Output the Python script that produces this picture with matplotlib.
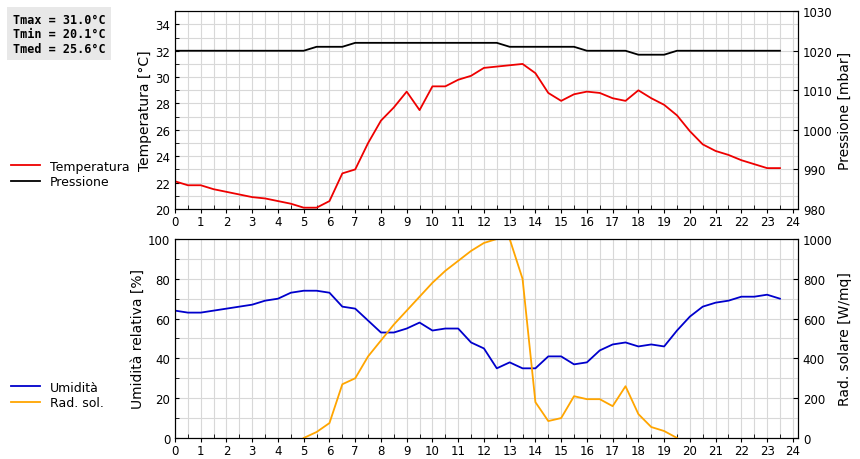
import numpy as np
import matplotlib
matplotlib.use("Agg")
import matplotlib.pyplot as plt
from matplotlib.ticker import MultipleLocator

# Half-hour readings, 0:00 .. 23:30
hours = np.arange(48) * 0.5
temperatura = [22.1, 21.8, 21.8, 21.5, 21.3, 21.1, 20.9, 20.8, 20.6, 20.4,
               20.1, 20.1, 20.6, 22.7, 23.0, 25.0, 26.7, 27.7, 28.9, 27.5,
               29.3, 29.3, 29.8, 30.1, 30.7, 30.8, 30.9, 31.0, 30.3, 28.8,
               28.2, 28.7, 28.9, 28.8, 28.4, 28.2, 29.0, 28.4, 27.9, 27.1,
               25.9, 24.9, 24.4, 24.1, 23.7, 23.4, 23.1, 23.1]
pressione = [1020] * 11 + [1021] * 3 + [1022] * 12 + [1021] * 6 + [1020] * 4 \
    + [1019] * 3 + [1020] * 9
umidita = [64, 63, 63, 64, 65, 66, 67, 69, 70, 73, 74, 74, 73, 66, 65, 59,
           53, 53, 55, 58, 54, 55, 55, 48, 45, 35, 38, 35, 35, 41, 41, 37,
           38, 44, 47, 48, 46, 47, 46, 54, 61, 66, 68, 69, 71, 71, 72, 70]
nan = np.nan
rad_sol = [nan] * 10 + [0, 30, 75, 270, 300, 410, 490, 570, 640, 710,
           780, 840, 890, 940, 980, 1000, 1000, 800, 180, 85, 100, 210,
           195, 195, 160, 260, 120, 55, 35, 0] + [nan] * 8
stats = ["Tmax = 31.0°C", "Tmin = 20.1°C", "Tmed = 25.6°C"]

fig = plt.figure(figsize=(8.6, 4.6), dpi=100)
ax1 = fig.add_axes([0.2035, 0.5435, 0.7244, 0.430])
ax2 = fig.add_axes([0.2035, 0.0457, 0.7244, 0.4326])

def style(ax):
    ax.set_xlim(0, 24.2)
    ax.xaxis.set_major_locator(MultipleLocator(1))
    ax.xaxis.set_minor_locator(MultipleLocator(0.5))
    ax.grid(True, which="both", color="#d8d8d8", lw=0.8)
    ax.set_axisbelow(True)
    ax.tick_params(labelsize=8.5, length=3, direction="in", which="both")
    ax.tick_params(axis="x", direction="out", pad=1)
    for s in ax.spines.values():
        s.set_color("black")

style(ax1)
ax1.plot(hours, temperatura, color="#ee0000", lw=1.3)
ax1.set_ylim(20, 35)
ax1.set_yticks(range(20, 35, 2))
ax1.yaxis.set_minor_locator(MultipleLocator(1))
ax1.set_ylabel("Temperatura [°C]", fontsize=10, labelpad=2)
ax1b = ax1.twinx()
ax1b.plot(hours, pressione, color="black", lw=1.3)
ax1b.set_ylim(980, 1030)
ax1b.set_yticks(range(980, 1031, 10))
ax1b.tick_params(labelsize=8.5, direction="in")
ax1b.set_ylabel("Pressione [mbar]", fontsize=10)

style(ax2)
ax2.plot(hours, umidita, color="#0000cc", lw=1.3)
ax2.set_ylim(0, 100)
ax2.set_yticks(range(0, 101, 20))
ax2.yaxis.set_minor_locator(MultipleLocator(10))
ax2.set_ylabel("Umidità relativa [%]", fontsize=10, labelpad=2)
ax2b = ax2.twinx()
ax2b.plot(hours, rad_sol, color="orange", lw=1.3)
ax2b.set_ylim(0, 1000)
ax2b.set_yticks(range(0, 1001, 200))
ax2b.tick_params(labelsize=8.5, direction="in")
ax2b.set_ylabel("Rad. solare [W/mq]", fontsize=10)

fig.legend(handles=[plt.Line2D([], [], color="#ee0000", lw=1.3),
                    plt.Line2D([], [], color="black", lw=1.3)],
           labels=["Temperatura", "Pressione"], loc="upper left",
           bbox_to_anchor=(0.0, 0.675), frameon=False, fontsize=9,
           handlelength=2.3, labelspacing=0.2)
fig.legend(handles=[plt.Line2D([], [], color="#0000cc", lw=1.3),
                    plt.Line2D([], [], color="orange", lw=1.3)],
           labels=["Umidità", "Rad. sol."], loc="upper left",
           bbox_to_anchor=(0.0, 0.195), frameon=False, fontsize=9,
           handlelength=2.3, labelspacing=0.2)

fig.text(0.015, 0.97, "\n".join(stats), family="DejaVu Sans Mono",
         weight="bold", fontsize=8.5, va="top", linespacing=1.15,
         bbox=dict(facecolor="#e8e8e8", edgecolor="none", pad=4))

fig.savefig("out.png", dpi=100)
